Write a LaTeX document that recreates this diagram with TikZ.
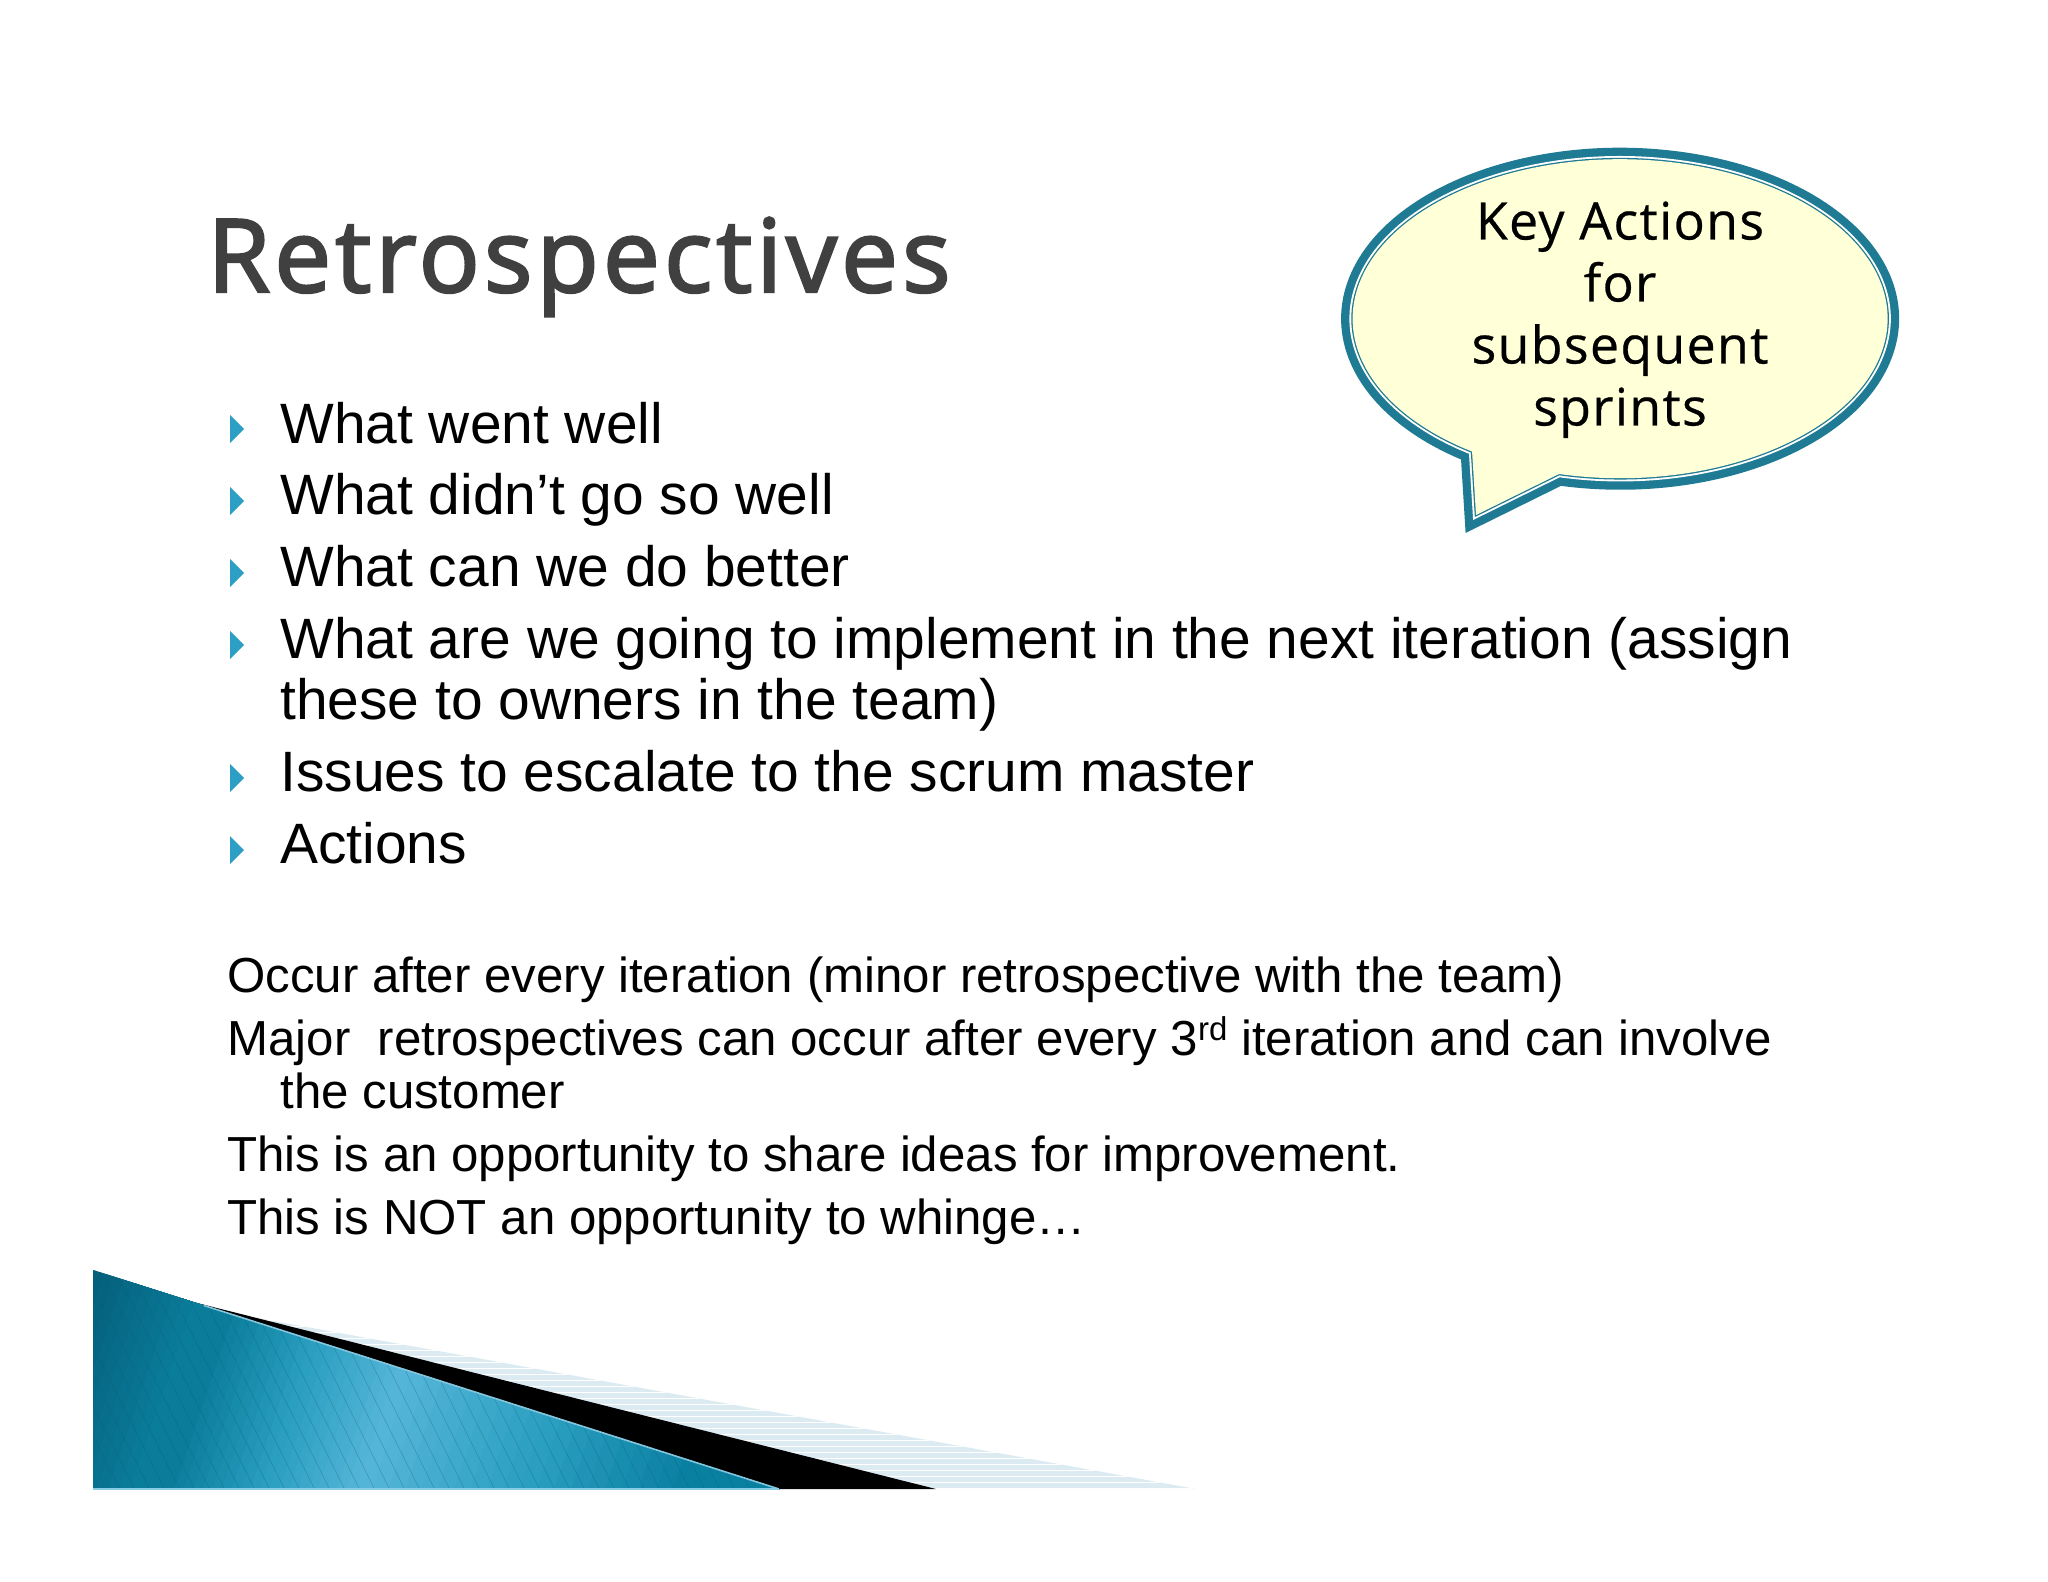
\documentclass[tikz,border=0pt]{standalone}
\usepackage{fontspec}
\setmainfont{Liberation Sans}
\newfontfamily\titlefont[LetterSpace=4,FakeBold=2.4]{Open Sans}
\newfontfamily\bubblefont[LetterSpace=2.6,FakeBold=0.5]{Open Sans}
\definecolor{ringteal}{HTML}{1F7A93}
\definecolor{bubblefill}{HTML}{FFFFD8}
\definecolor{titlegrey}{HTML}{404040}
\definecolor{bulletblue}{HTML}{2E9FC4}
\definecolor{palehatch}{HTML}{DCEBF1}
\definecolor{c1}{HTML}{05607C}
\definecolor{c0}{HTML}{0A7D9B}
\definecolor{c2}{HTML}{2A9FC0}
\definecolor{c3}{HTML}{55B5D8}
\definecolor{c4}{HTML}{077C9E}
\tikzset{
  big/.style={anchor=base west,inner sep=0pt,font=\fontsize{28.45pt}{28.45pt}\selectfont},
  small/.style={anchor=base west,inner sep=0pt,font=\fontsize{24.6pt}{24.6pt}\selectfont},
  bubtext/.style={anchor=base,inner sep=0pt,font=\bubblefont\fontsize{25.9pt}{25.9pt}\selectfont},
  bullet/.style={fill=bulletblue,draw=none},
  hatchline/.style={c1,opacity=0.35,line width=0.3pt},
}
\newcommand{\bubblepath}{(1559,474) arc[start angle=103.2,end angle=-236.4,x radius=267.5,y radius=159.5] -- (1476,515) -- cycle}
\begin{document}
\begin{tikzpicture}[x=0.5pt,y=-0.5pt]
\useasboundingbox (0,0) rectangle (2048,1582);
% banner
\fill[palehatch] (252,1317) -- (1196,1489) -- (936,1489) -- cycle;
\begin{scope}
\clip (252,1317) -- (1196,1489) -- (936,1489) -- cycle;
\foreach \yy in {1320,1326,...,1488}
  \draw[white,line width=0.4pt] (200,\yy) -- (1200,\yy);
\end{scope}
\fill[black] (192,1301.7) -- (936,1489) -- (779,1489) -- cycle;
\begin{scope}
\clip (93,1270) -- (779,1489) -- (93,1489) -- cycle;
\fill[c1] (0,1250) rectangle (900,1500);
% colour bands, each painted from its left edge to the far right
\foreach \xa/\xb/\ca/\cb in {20/130/c1/c0,130/165/c0/c0,165/260/c0/c2,260/356/c2/c3,356/520/c3/c2,520/690/c2/c4}{
  \foreach \pp in {0,10,...,90}{
    \pgfmathsetmacro{\xs}{\xa+(\xb-\xa)*(\pp/100)}
    \pgfmathtruncatemacro{\qq}{100-\pp}
    \fill[\ca!\qq!\cb] (\xs,1489) -- (\xs+74,1270) -- (900,1270) -- (900,1489) -- cycle;
  }
}
\foreach \xx in {0,15,...,900}
  \draw[hatchline] (\xx,1250) -- ++(125,250);
\end{scope}
\draw[white!40!bulletblue,line width=0.8pt] (204,1305.5) -- (779,1489);
\draw[c3!70!white,line width=0.6pt] (93,1489) -- (779,1489);
% title
\node[anchor=base west,inner sep=0pt,text=titlegrey,font=\titlefont\fontsize{50.8pt}{50.8pt}\selectfont] (title) at (207,292) {Retrospectives};
% bubble
\draw[ringteal,line width=11.5pt,miter limit=12] \bubblepath;
\draw[white,line width=3.2pt,miter limit=12] \bubblepath;
\draw[ringteal,line width=1.3pt,miter limit=12] \bubblepath;
\fill[bubblefill] \bubblepath;
\node[bubtext] (b1) at (1620,239.5) {Key Actions};
\node[bubtext] (b2) at (1620,301.5) {for};
\node[bubtext] (b3) at (1620,363.5) {subsequent};
\node[bubtext] (b4) at (1620,425.5) {sprints};
% bullets
\foreach \yy in {443,515,587,659,792,864}
  \fill[bullet] (230,\yy-28) -- (244,\yy-14) -- (230,\yy) -- cycle;
% list
\node[big] (l1) at (280,444) {What went well};
\node[big] (l2) at (280,515) {What didn’t go so well};
\node[big] (l3) at (280,587) {What can we do better};
\node[big] (l4) at (280,658) {What are we going to implement in the next iteration (assign};
\node[big] (l4b) at (280,719) {these to owners in the team)};
\node[big] (l5) at (280,791) {Issues to escalate to the scrum master};
\node[big] (l6) at (280,863) {Actions};
% notes
\node[small] (n1) at (227,992) {Occur after every iteration (minor retrospective with the team)};
\node[small] (n2) at (227,1055) {Major\ \ retrospectives can occur after every 3\raisebox{0.3em}{\fontsize{16.5pt}{16.5pt}\selectfont rd} iteration and can involve};
\node[small] (n2b) at (280,1108) {the customer};
\node[small] (n3) at (227,1171) {This is an opportunity to share ideas for improvement.};
\node[small] (n4) at (227,1234) {This is NOT an opportunity to whinge…};
\end{tikzpicture}
\end{document}
